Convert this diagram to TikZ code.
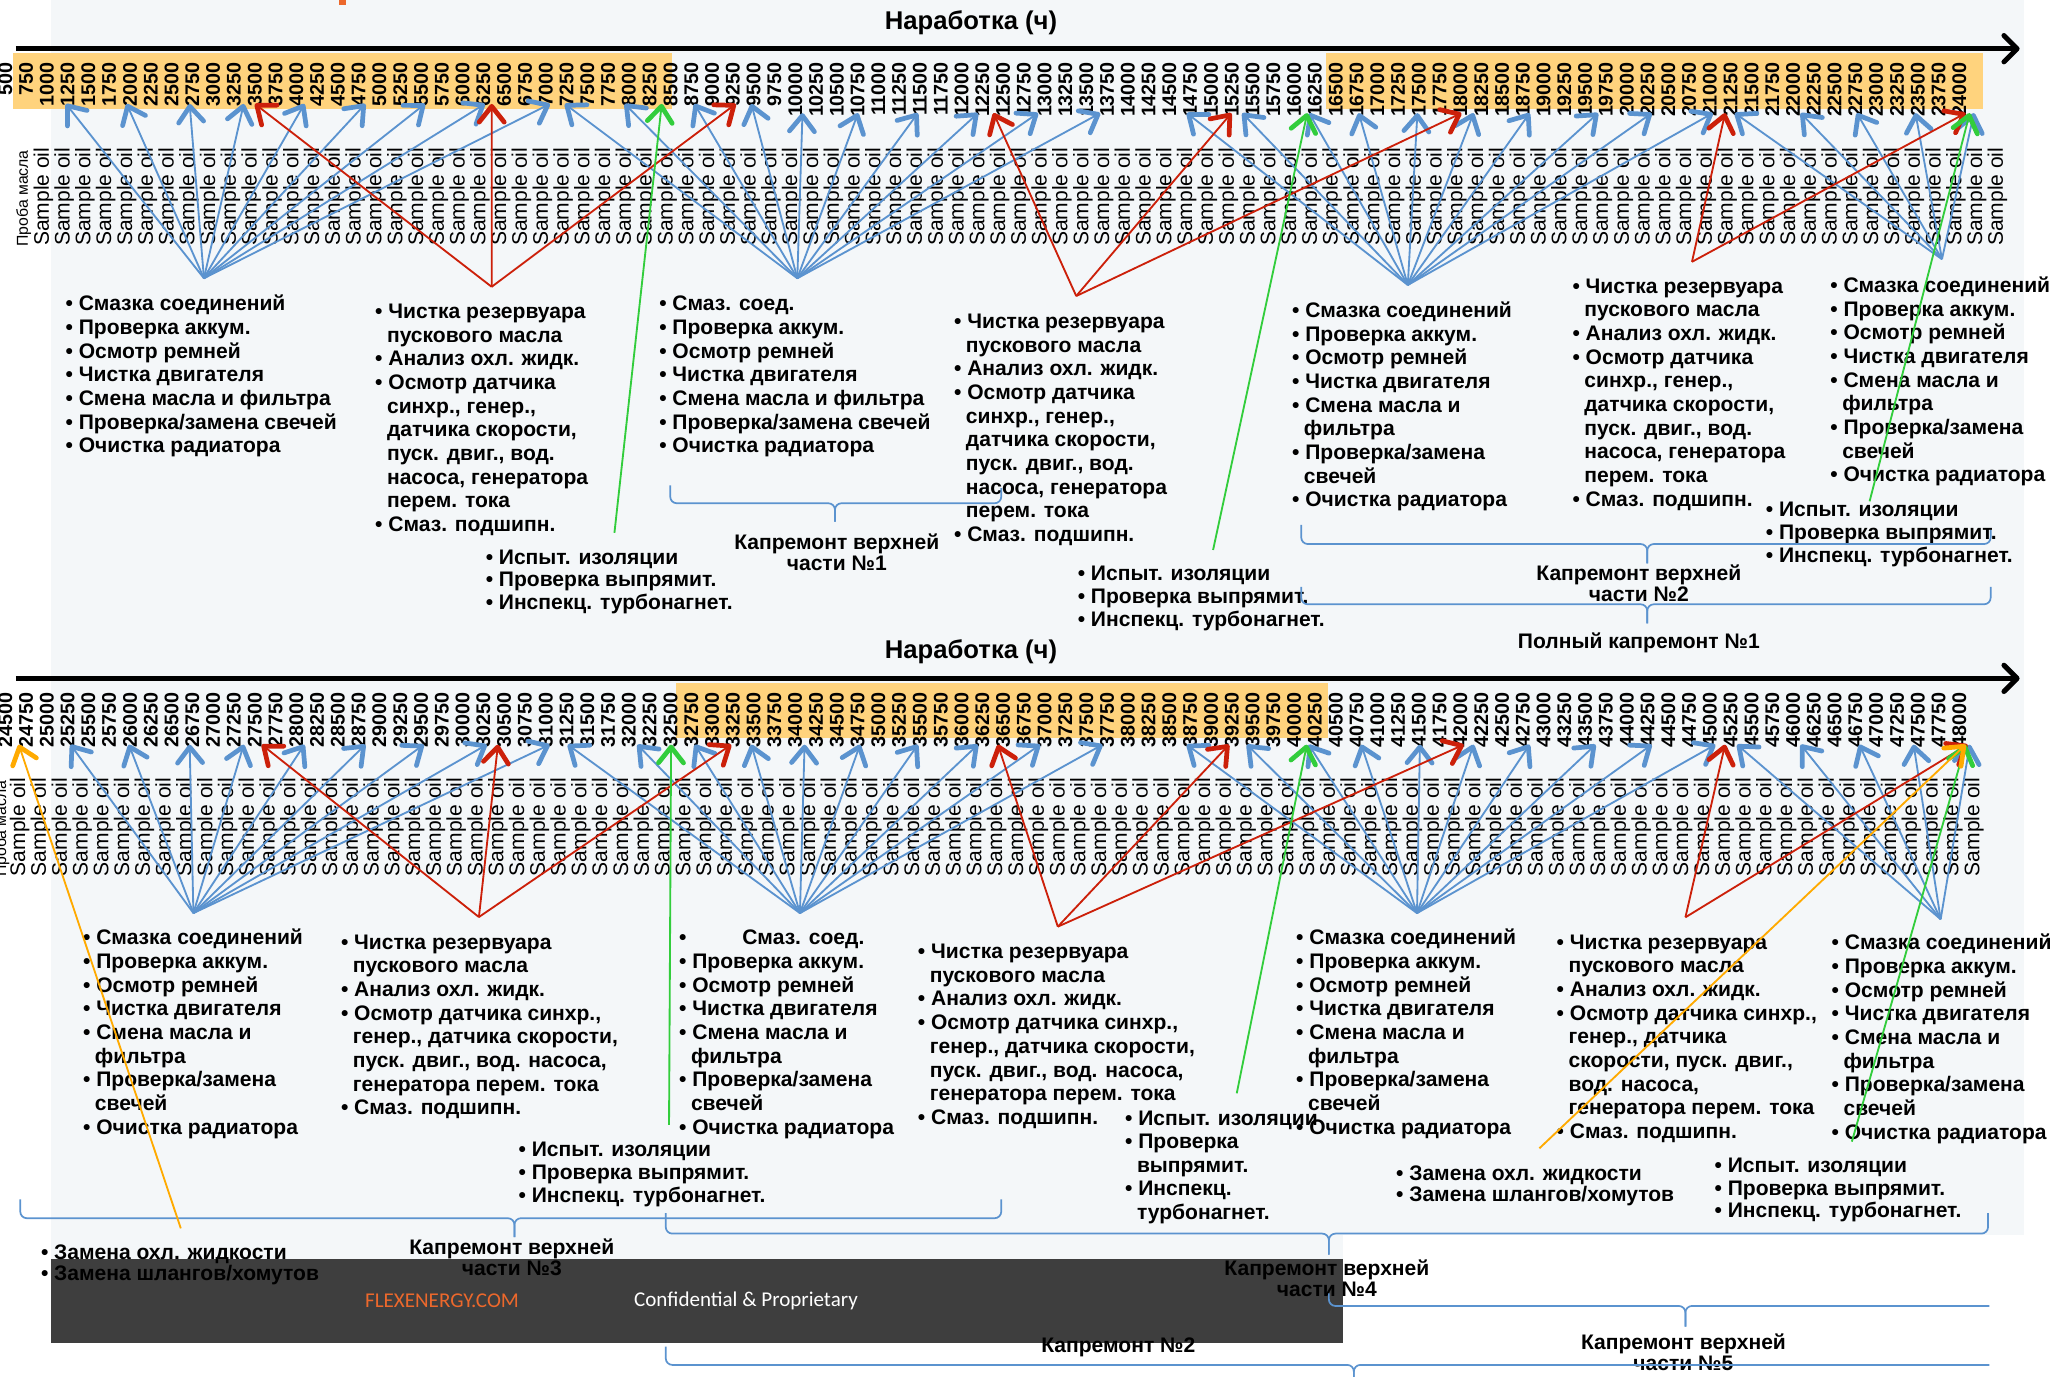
\documentclass[tikz,border=0pt]{standalone}
\usepackage{fontspec}
\setmainfont{Liberation Sans}
\newfontfamily\carl{Carlito}
\usetikzlibrary{arrows.meta}
\definecolor{bgc}{RGB}{244,247,249}
\definecolor{bandc}{RGB}{255,211,125}
\definecolor{bl}{RGB}{91,147,207}
\definecolor{rd}{RGB}{204,32,10}
\definecolor{gr}{RGB}{50,205,60}
\definecolor{og}{RGB}{255,170,0}
\definecolor{foot}{RGB}{62,62,62}
\definecolor{flex}{RGB}{236,104,44}
\newcommand\mybul{\rule{0pt}{15pt}\makebox[10pt][l]{•}}
\newcommand\mycont{\hspace*{9pt}}
\newcommand\hbr[7]{\draw[brc] (#1,#3) -- (#1,#5) -- (#6,#5) -- (#6,#7); \draw[brc] (#2,#4) -- (#2,#5) -- (#6,#5) -- (#6,#7);}
\tikzset{
 num/.style={rotate=90,anchor=east,inner sep=0pt,font={\fontsize{15}{15}\selectfont\bfseries}},
 so/.style={rotate=90,anchor=east,inner sep=0pt,font={\fontsize{16}{16}\selectfont}},
 pm/.style={rotate=90,anchor=east,inner sep=0pt,font={\fontsize{12}{12}\selectfont}},
 lst/.style={anchor=north west,inner sep=0pt,align=left,font={\fontsize{16}{#1}\selectfont\bfseries}},
 lst/.default=18,
 lbl/.style={anchor=north,inner sep=0pt,align=center,font={\fontsize{16}{16}\selectfont\bfseries}},
 ttl/.style={inner sep=0pt,font={\fontsize{19.5}{20}\selectfont\bfseries}},
 axisarrow/.style={line width=3.8pt,-{Straight Barb[length=10pt,width=20pt,line width'=3.8pt,round]}},
 tipstyle/.style={-{Straight Barb[length=12pt,width=19pt,line width'=3.6pt,round]}},
 barr/.style={draw=bl,line width=1.4pt,tipstyle},
 rarr/.style={draw=rd,line width=1.4pt,tipstyle},
 garr/.style={draw=gr,line width=1.4pt,tipstyle},
 oarr/.style={draw=og,line width=1.4pt,tipstyle},
 brc/.style={draw=bl,line width=1.3pt,rounded corners=5pt},
}
\begin{document}
\lineskiplimit=-30pt
\begin{tikzpicture}[x=1pt,y=-1pt]
\useasboundingbox (0,0) rectangle (1568,1046);
\clip (0,0) rectangle (1568,1046);
% backgrounds
\fill[bgc] (39,0) rectangle (1538,938.6);
\fill[bgc] (39,938) rectangle (1021,957);
\fill[foot] (39,957) rectangle (1021,1021);
\fill[flex] (258,0) rectangle (263,4);
\fill[bandc] (10,40.5) rectangle (511,82.5);
\fill[bandc] (1008,40.5) rectangle (1507,82.5);
\fill[bandc] (514,519) rectangle (1009,561);
% footer text
\node[text=flex,inner sep=0pt,font={\carl\fontsize{16}{16}\selectfont}] (flx) at (336,988.6) {FLEXENERGY.COM};
\node[text=white,inner sep=0pt,font={\carl\fontsize{16}{16}\selectfont}] (conf) at (567,988.6) {Confidential \& Proprietary};
% titles and axes
\node[ttl] (ttl1) at (738,17) {Наработка (ч)};
\node[ttl] (ttl2) at (738,495) {Наработка (ч)};
\coordinate (ax1s) at (12,37); \coordinate (ax1e) at (1535,37);
\coordinate (ax2s) at (12,515.6); \coordinate (ax2e) at (1535,515.6);
\draw[axisarrow] (ax1s) -- (ax1e);
\draw[axisarrow] (ax2s) -- (ax2e);
% numbers and sample labels
\foreach \k in {0,...,94}{
  \node[num] (na\k) at ({4+15.8*\k},47) {\the\numexpr500+250*\k\relax};
  \node[num] (nb\k) at ({4+15.8*\k},526) {\the\numexpr24500+250*\k\relax};
  \node[so] (sa\k) at ({33+15.8*\k},112) {Sample oil};
  \node[so] (sb\k) at ({15+15.8*\k},591) {Sample oil};
}
\node[pm] (pma) at (18,114) {Проба масла};
\node[pm] (pmb) at (1.5,593) {Проба масла};
% ---------- text blocks top
\node[lst] (t1) at (49.7,221) {\mybul Смазка соединений\\\mybul Проверка аккум.\\\mybul Осмотр ремней\\\mybul Чистка двигателя\\\mybul Смена масла и фильтра\\\mybul Проверка/замена свечей\\\mybul Очистка радиатора};
\node[lst] (t2) at (285,226.9) {\mybul Чистка резервуара\\\mycont пускового масла\\\mybul Анализ охл. жидк.\\\mybul Осмотр датчика\\\mycont синхр., генер.,\\\mycont датчика скорости,\\\mycont пуск. двиг., вод.\\\mycont насоса, генератора\\\mycont перем. тока\\\mybul Смаз. подшипн.};
\node[lst=17.3] (t3) at (369,413.5) {\mybul Испыт. изоляции\\\mybul Проверка выпрямит.\\\mybul Инспекц. турбонагнет.};
\node[lst] (t4) at (500.9,221) {\mybul Смаз. соед.\\\mybul Проверка аккум.\\\mybul Осмотр ремней\\\mybul Чистка двигателя\\\mybul Смена масла и фильтра\\\mybul Проверка/замена свечей\\\mybul Очистка радиатора};
\node[lst] (t5) at (725,234.5) {\mybul Чистка резервуара\\\mycont пускового масла\\\mybul Анализ охл. жидк.\\\mybul Осмотр датчика\\\mycont синхр., генер.,\\\mycont датчика скорости,\\\mycont пуск. двиг., вод.\\\mycont насоса, генератора\\\mycont перем. тока\\\mybul Смаз. подшипн.};
\node[lst=17.3] (t6) at (819,426.2) {\mybul Испыт. изоляции\\\mybul Проверка выпрямит.\\\mybul Инспекц. турбонагнет.};
\node[lst] (t7) at (981.9,226.1) {\mybul Смазка соединений\\\mybul Проверка аккум.\\\mybul Осмотр ремней\\\mybul Чистка двигателя\\\mybul Смена масла и\\\mycont фильтра\\\mybul Проверка/замена\\\mycont свечей\\\mybul Очистка радиатора};
\node[lst] (t8) at (1195,207.6) {\mybul Чистка резервуара\\\mycont пускового масла\\\mybul Анализ охл. жидк.\\\mybul Осмотр датчика\\\mycont синхр., генер.,\\\mycont датчика скорости,\\\mycont пуск. двиг., вод.\\\mycont насоса, генератора\\\mycont перем. тока\\\mybul Смаз. подшипн.};
\node[lst] (t9) at (1391,207.1) {\mybul Смазка соединений\\\mybul Проверка аккум.\\\mybul Осмотр ремней\\\mybul Чистка двигателя\\\mybul Смена масла и\\\mycont фильтра\\\mybul Проверка/замена\\\mycont свечей\\\mybul Очистка радиатора};
\node[lst=17.3] (t10) at (1342,377.6) {\mybul Испыт. изоляции\\\mybul Проверка выпрямит.\\\mybul Инспекц. турбонагнет.};
% ---------- text blocks bottom
\node[lst] (u1) at (63,702.9) {\mybul Смазка соединений\\\mybul Проверка аккум.\\\mybul Осмотр ремней\\\mybul Чистка двигателя\\\mybul Смена масла и\\\mycont фильтра\\\mybul Проверка/замена\\\mycont свечей\\\mybul Очистка радиатора};
\node[lst] (u2) at (259,706.2) {\mybul Чистка резервуара\\\mycont пускового масла\\\mybul Анализ охл. жидк.\\\mybul Осмотр датчика синхр.,\\\mycont генер., датчика скорости,\\\mycont пуск. двиг., вод. насоса,\\\mycont генератора перем. тока\\\mybul Смаз. подшипн.};
\node[lst=17.3] (u3) at (394,864) {\mybul Испыт. изоляции\\\mybul Проверка выпрямит.\\\mybul Инспекц. турбонагнет.};
\node[lst] (u4) at (516,702.9) {\mybul\hspace*{38pt}Смаз. соед.\\\mybul Проверка аккум.\\\mybul Осмотр ремней\\\mybul Чистка двигателя\\\mybul Смена масла и\\\mycont фильтра\\\mybul Проверка/замена\\\mycont свечей\\\mybul Очистка радиатора};
\node[lst] (u5) at (697.5,713.4) {\mybul Чистка резервуара\\\mycont пускового масла\\\mybul Анализ охл. жидк.\\\mybul Осмотр датчика синхр.,\\\mycont генер., датчика скорости,\\\mycont пуск. двиг., вод. насоса,\\\mycont генератора перем. тока\\\mybul Смаз. подшипн.};
\node[lst=17.85] (u6) at (855,839.9) {\mybul Испыт. изоляции\\\mybul Проверка\\\mycont выпрямит.\\\mybul Инспекц.\\\mycont турбонагнет.};
\node[lst] (u7) at (985,702.9) {\mybul Смазка соединений\\\mybul Проверка аккум.\\\mybul Осмотр ремней\\\mybul Чистка двигателя\\\mybul Смена масла и\\\mycont фильтра\\\mybul Проверка/замена\\\mycont свечей\\\mybul Очистка радиатора};
\node[lst] (u8) at (1183,706.2) {\mybul Чистка резервуара\\\mycont пускового масла\\\mybul Анализ охл. жидк.\\\mybul Осмотр датчика синхр.,\\\mycont генер., датчика\\\mycont скорости, пуск. двиг.,\\\mycont вод. насоса,\\\mycont генератора перем. тока\\\mybul Смаз. подшипн.};
\node[lst] (u9) at (1392,706.7) {\mybul Смазка соединений\\\mybul Проверка аккум.\\\mybul Осмотр ремней\\\mybul Чистка двигателя\\\mybul Смена масла и\\\mycont фильтра\\\mybul Проверка/замена\\\mycont свечей\\\mybul Очистка радиатора};
\node[lst=17.3] (u10) at (1303,875.9) {\mybul Испыт. изоляции\\\mybul Проверка выпрямит.\\\mybul Инспекц. турбонагнет.};
\node[lst=15.7] (u11) at (1061,882.3) {\mybul Замена охл. жидкости\\\mybul Замена шлангов/хомутов};
\node[lst=16.5] (u12) at (31,941.8) {\mybul Замена охл. жидкости\\\mybul Замена шлангов/хомутов};
% ---------- brace labels
\node[lbl] (l1) at (636,402.2) {\rule{0pt}{15pt}Капремонт верхней\\части №1};
\node[lbl] (l2) at (1245.6,425.8) {\rule{0pt}{15pt}Капремонт верхней\\части №2};
\node[lbl] (l3) at (1245.6,477.6) {\rule{0pt}{15pt}Полный капремонт №1};
\node[lbl] (l4) at (389,938.1) {\rule{0pt}{15pt}Капремонт верхней\\части №3};
\node[lbl] (l5) at (1008.5,954.5) {\rule{0pt}{15pt}Капремонт верхней\\части №4};
\node[lbl] (l6) at (1279.5,1010.2) {\rule{0pt}{15pt}Капремонт верхней\\части №5};
\node[lbl] (l7) at (850,1012.8) {\rule{0pt}{15pt}Капремонт №2};
% ---------- braces
\hbr{509.4}{761}{369}{371}{382.5}{634.6}{396.4}
\hbr{989}{1513}{399}{403}{413.5}{1252}{428.2}
\hbr{989}{1513}{446}{446}{459.3}{1252}{473.8}
\hbr{15.4}{761}{911.5}{911.5}{925.9}{391}{940.3}
\hbr{506}{1511}{922}{922}{937.6}{1010}{953.6}
\draw[brc] (1010,983) -- (1010,992.6) -- (1281,992.6) -- (1281,1008.3);
\draw[brc] (1512,992.6) -- (1281,992.6) -- (1281,1008.3);
\draw[brc] (506,1023.5) -- (506,1037.4) -- (1029,1037.4) -- (1029,1052);
\draw[brc] (1512,1037.4) -- (1029,1037.4) -- (1029,1052);
% ---------- fan origins
\coordinate (B1) at (155,211.5);
\coordinate (B2) at (606,211.5);
\coordinate (B3) at (1070,216.6);
\coordinate (B4) at (1476,197);
\coordinate (R1) at (373.7,218);
\coordinate (R2) at (818,225);
\coordinate (R3) at (1286,199);
\coordinate (G1) at (467,405);
\coordinate (G2) at (922,418);
\coordinate (G3) at (1421,381);
\coordinate (C1) at (147,694);
\coordinate (C2) at (608,694);
\coordinate (C3) at (1077,694);
\coordinate (C4) at (1475,698.7);
\coordinate (S1) at (364,697);
\coordinate (S2) at (804,704.3);
\coordinate (S3) at (1281,697.2);
\coordinate (H1) at (508.5,855);
\coordinate (H2) at (940,831);
\coordinate (H3) at (1407.5,867.7);
\coordinate (O1) at (137.4,933.6);
\coordinate (O2) at (1170,872.8);
% ---------- top arrows (targets given as fractional column index)
\foreach \f/\o/\s in {
  2.92/B1/barr,5.84/B1/barr,8.87/B1/barr,11.47/B1/barr,14.39/B1/barr,17.32/B1/barr,20.19/B1/barr,23.07/B1/barr,26.2/B1/barr,
  26.92/B2/barr,29.8/B2/barr,33.15/B2/barr,35.89/B2/barr,38.35/B2/barr,41.02/B2/barr,43.9/B2/barr,46.79/B2/barr,49.68/B2/barr,52.67/B2/barr,
  56.84/B3/barr,59.51/B3/barr,62.72/B3/barr,65.11/B3/barr,67.93/B3/barr,70.63/B3/barr,73.33/B3/barr,76.62/B3/barr,79.2/B3/barr,82.14/B3/barr,
  83.2/B4/barr,86.37/B4/barr,89.07/B4/barr,91.89/B4/barr,94.7/B4/barr,
  12.01/R1/rarr,23.4/R1/rarr,35.14/R1/rarr,
  47.54/R2/rarr,58.98/R2/rarr,70.05/R2/rarr,
  82.73/R3/rarr,94.3/R3/rarr,
  31.58/G1/garr,62.63/G2/garr,94.5/G3/garr}{
  \pgfmathsetmacro\ty{\f<37.5 ? 79 : 86}
  \coordinate (tp) at ({4+15.8*\f},\ty);
  \draw[\s] (\o) -- (tp);
}
% ---------- bottom arrows
\foreach \f/\o/\s in {
  3.14/C1/barr,5.95/C1/barr,8.87/C1/barr,11.47/C1/barr,14.39/C1/barr,17.32/C1/barr,20.13/C1/barr,23.16/C1/barr,26.19/C1/barr,
  27.06/C2/barr,30.41/C2/barr,33.17/C2/barr,35.89/C2/barr,38.45/C2/barr,41.12/C2/barr,43.9/C2/barr,46.79/C2/barr,49.78/C2/barr,52.78/C2/barr,
  56.84/C3/barr,59.73/C3/barr,62.7/C3/barr,65.23/C3/barr,68.05/C3/barr,70.63/C3/barr,73.33/C3/barr,76.5/C3/barr,79.2/C3/barr,82.26/C3/barr,
  83.31/C4/barr,86.37/C4/barr,89.19/C4/barr,91.8/C4/barr,94.5/C4/barr,
  12.34/S1/rarr,23.7/S1/rarr,34.92/S1/rarr,
  47.75/S2/rarr,58.87/S2/rarr,70.16/S2/rarr,
  82.73/S3/rarr,94.4/S3/rarr,
  32.03/H1/garr,62.61/H2/garr,94.3/H3/garr,
  0.65/O1/oarr,94.3/O2/oarr}{
  \coordinate (tp) at ({4+15.8*\f},566);
  \draw[\s] (\o) -- (tp);
}
\end{tikzpicture}
\end{document}
